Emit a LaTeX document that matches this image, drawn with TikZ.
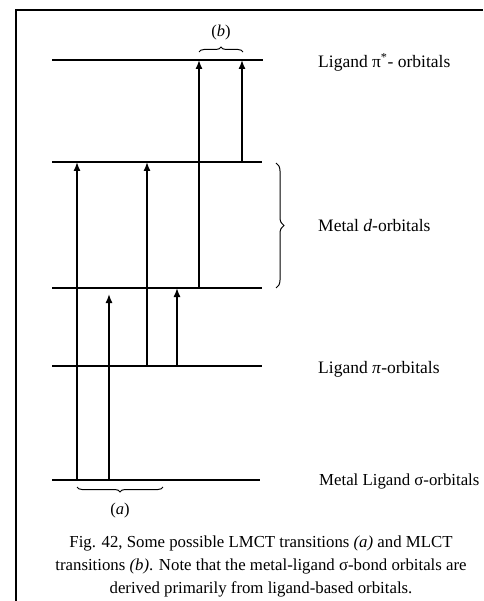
\documentclass[tikz,border=0pt]{standalone}
\usepackage{fontspec}
\setmainfont{Liberation Serif}
\usetikzlibrary{arrows.meta,decorations.pathreplacing}
\begin{document}
\begin{tikzpicture}[x=1pt,y=-1pt,
  level/.style={line width=1.7pt},
  trans/.style={line width=1.4pt,-{Latex[length=9pt,width=7pt]}},
  frame/.style={line width=1.8pt},
  lbl/.style={anchor=base west,inner sep=0pt,font=\fontsize{17.5}{20}\selectfont},
  brc/.style={decorate,decoration={brace,amplitude=5pt},line width=1pt},
  blbl/.style={inner sep=0pt,font=\fontsize{16.5}{18}\selectfont}]
\useasboundingbox (0,0) rectangle (483,601);
% frame
\draw[frame] (16,601) -- (16,10) -- (483,10);
% levels
\coordinate (pisL) at (52,60);  \coordinate (pisR) at (263,60);
\coordinate (dtL) at (52,162);  \coordinate (dtR) at (262,162);
\coordinate (dbL) at (52,288);  \coordinate (dbR) at (262,288);
\coordinate (piL) at (52,366);  \coordinate (piR) at (262,366);
\coordinate (sgL) at (52,480);  \coordinate (sgR) at (260,480);
\draw[level] (pisL) -- (pisR);
\draw[level] (dtL) -- (dtR);
\draw[level] (dbL) -- (dbR);
\draw[level] (piL) -- (piR);
\draw[level] (sgL) -- (sgR);
% transitions
\coordinate (t1a) at (77,480);  \coordinate (t1b) at (77,162);
\coordinate (t2a) at (109,480); \coordinate (t2b) at (109,294);
\coordinate (t3a) at (147,366); \coordinate (t3b) at (147,162);
\coordinate (t4a) at (177,366); \coordinate (t4b) at (177,288);
\coordinate (t5a) at (199,288); \coordinate (t5b) at (199,60);
\coordinate (t6a) at (242,162); \coordinate (t6b) at (242,60);
\draw[trans] (t1a) -- (t1b);
\draw[trans] (t2a) -- (t2b);
\draw[trans] (t3a) -- (t3b);
\draw[trans] (t4a) -- (t4b);
\draw[trans] (t5a) -- (t5b);
\draw[trans] (t6a) -- (t6b);
% braces
\coordinate (bbL) at (199,52); \coordinate (bbR) at (243,52);
\draw[brc] (bbL) -- (bbR);
\node[blbl] (bl) at (221,33) {(\textit{b})};
\coordinate (baL) at (77,487); \coordinate (baR) at (163,487);
\draw[brc] (baR) -- (baL);
\node[blbl] (al) at (120,511) {(\textit{a})};
\coordinate (bdT) at (276,163); \coordinate (bdB) at (276,288);
\draw[brc,decoration={amplitude=8pt}] (bdT) -- (bdB);
% labels
\node[lbl] (l1) at (318,68) {Ligand π\textsuperscript{*}- orbitals};
\node[lbl] (l2) at (318,232) {Metal \textit{d}-orbitals};
\node[lbl] (l3) at (318,373) {Ligand \textit{π}-orbitals};
\node[lbl,font=\fontsize{16.8}{20}\selectfont] (l4) at (319,485) {Metal Ligand σ-orbitals};
% caption
\node[align=center,inner sep=0pt,anchor=base,font=\fontsize{16.8}{23}\selectfont] (cap) at (261,593)
  {Fig. 42, Some possible LMCT transitions \textit{(a)} and MLCT\\
   transitions \textit{(b)}. Note that the metal-ligand σ-bond orbitals are\\
   derived primarily from ligand-based orbitals.};
\end{tikzpicture}
\end{document}
